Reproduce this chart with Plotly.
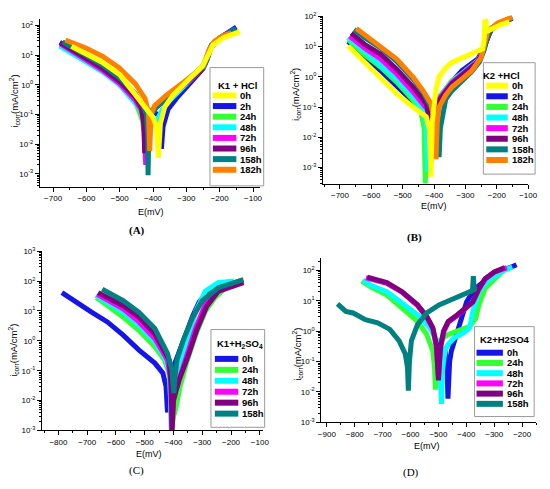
import plotly.graph_objects as go

# ---- panel A : K1 + HCl ----
a_e_0h = [-645, -600, -550, -500, -453, -420, -400, -390, -384, -378, -365, -340, -310, -280, -250, -235, -220, -190, -160, -140]
a_i_0h = [20, 11, 5.5, 2.2, 0.45, 0.16, 0.08, 0.04, 0.0035, 0.05, 0.18, 0.45, 1.0, 2.3, 4.5, 10, 22, 38, 52, 62]
a_e_2h = [-680, -640, -600, -550, -500, -450, -420, -400, -385, -378, -375, -370, -355, -330, -300, -270, -250, -238, -225, -200, -175, -150]
a_i_2h = [27, 16, 8.5, 3.8, 1.4, 0.35, 0.15, 0.12, 0.1, 0.03, 0.007, 0.04, 0.15, 0.35, 0.8, 1.8, 3.5, 7, 20, 38, 58, 88]
a_e_24h = [-680, -600, -550, -500, -453, -438, -432, -428, -424, -410, -390, -360, -330, -300, -270, -250, -238, -225, -200, -175, -155]
a_i_24h = [22, 6.5, 2.9, 1.05, 0.26, 0.1, 0.06, 0.03, 0.07, 0.12, 0.2, 0.35, 0.7, 1.3, 2.4, 4, 8, 20, 36, 55, 72]
a_e_48h = [-680, -600, -550, -500, -453, -430, -410, -398, -390, -384, -372, -350, -320, -290, -260, -242, -228, -205, -180, -155]
a_i_48h = [20, 6, 2.7, 0.98, 0.25, 0.12, 0.1, 0.07, 0.035, 0.08, 0.15, 0.3, 0.65, 1.4, 3, 6, 18, 34, 52, 72]
a_e_72h = [-678, -600, -550, -500, -453, -435, -428, -422, -418, -405, -385, -355, -320, -290, -260, -242, -228, -205, -180, -158]
a_i_72h = [24, 7, 3, 1.1, 0.3, 0.14, 0.06, 0.002, 0.05, 0.12, 0.2, 0.35, 0.7, 1.4, 3, 6, 18, 34, 52, 70]
a_e_96h = [-678, -600, -550, -500, -453, -435, -428, -425, -420, -405, -385, -355, -320, -290, -260, -244, -230, -205, -180, -158]
a_i_96h = [26, 8, 3.5, 1.3, 0.38, 0.17, 0.05, 0.005, 0.06, 0.13, 0.2, 0.36, 0.72, 1.4, 2.9, 5.5, 16, 33, 50, 68]
a_e_158h = [-672, -600, -550, -500, -453, -430, -420, -416, -415, -413, -405, -390, -360, -330, -300, -270, -248, -236, -225, -200, -175, -150]
a_i_158h = [28, 10, 4.5, 1.7, 0.5, 0.2, 0.1, 0.02, 0.0009, 0.02, 0.1, 0.18, 0.35, 0.7, 1.3, 2.5, 4.5, 9, 22, 38, 55, 78]
a_e_182h = [-663, -600, -551, -502, -453, -424, -414, -410, -406, -395, -360, -330, -300, -270, -250, -240, -232, -215, -190, -165]
a_i_182h = [32, 17, 9, 3.8, 1.07, 0.34, 0.12, 0.006, 0.1, 0.2, 0.45, 0.8, 1.4, 2.6, 4.3, 8, 15, 30, 45, 56]

# ---- panel B : K2 + HCl ----
b_e_0h = [-674, -622, -570, -519, -467, -425, -415, -410, -406, -400, -394, -384, -363, -343, -311, -280, -255, -245, -240, -238, -235, -232, -215, -185, -160]
b_i_0h = [10.5, 3, 0.85, 0.28, 0.1, 0.048, 0.018, 0.0005, 0.03, 0.15, 0.4, 1.0, 2.0, 3.0, 4.3, 5.5, 7.5, 8.5, 20, 78, 70, 32, 40, 55, 66]
b_e_2h = [-674, -622, -570, -519, -467, -440, -425, -418, -415, -410, -400, -385, -363, -343, -311, -280, -260, -244, -234, -218, -198, -175, -150]
b_i_2h = [15, 4.5, 1.6, 0.52, 0.15, 0.08, 0.05, 0.02, 0.004, 0.03, 0.08, 0.2, 0.4, 0.7, 1.6, 2.8, 4, 8, 16, 38, 55, 72, 88]
b_e_24h = [-674, -622, -570, -519, -467, -441, -432, -428, -424, -415, -400, -385, -363, -343, -311, -280, -260, -244, -234, -218, -198, -175, -155]
b_i_24h = [17, 5.5, 2.1, 0.67, 0.17, 0.062, 0.02, 0.0003, 0.02, 0.06, 0.1, 0.2, 0.4, 0.75, 1.3, 2.5, 3.5, 7, 15, 37, 53, 70, 85]
b_e_48h = [-674, -622, -570, -519, -467, -436, -425, -420, -416, -408, -395, -380, -363, -343, -311, -280, -260, -244, -234, -218, -198, -175, -155]
b_i_48h = [20, 7, 2.6, 0.86, 0.22, 0.08, 0.03, 0.0007, 0.03, 0.07, 0.12, 0.2, 0.38, 0.7, 1.25, 2.4, 3.4, 7, 15, 37, 53, 70, 85]
b_e_72h = [-669, -622, -570, -519, -467, -420, -414, -410, -406, -398, -385, -363, -343, -311, -280, -260, -244, -234, -218, -198, -175, -155]
b_i_72h = [22, 9, 3.9, 1.25, 0.32, 0.08, 0.03, 0.0014, 0.03, 0.08, 0.18, 0.35, 0.65, 1.2, 2.3, 3.3, 7, 15, 37, 53, 70, 85]
b_e_96h = [-664, -622, -570, -519, -467, -425, -416, -412, -408, -400, -385, -363, -343, -311, -280, -260, -244, -234, -218, -198, -175, -155]
b_i_96h = [28, 12, 5.6, 1.8, 0.46, 0.13, 0.05, 0.02, 0.04, 0.08, 0.16, 0.33, 0.6, 1.15, 2.2, 3.2, 7, 15, 37, 53, 70, 85]
b_e_158h = [-655, -622, -570, -519, -467, -436, -410, -395, -388, -384, -380, -370, -363, -343, -311, -280, -255, -240, -230, -218, -198, -175, -150]
b_i_158h = [37, 20, 9, 3.3, 0.85, 0.32, 0.1, 0.04, 0.01, 0.0022, 0.02, 0.1, 0.18, 0.35, 0.75, 1.5, 3.2, 8, 20, 40, 58, 75, 92]
b_e_182h = [-648, -610, -570, -519, -467, -436, -410, -400, -396, -394, -390, -384, -363, -343, -311, -280, -250, -239, -229, -198, -170, -151]
b_i_182h = [40, 20, 10.5, 3.9, 0.98, 0.36, 0.13, 0.037, 0.008, 0.0019, 0.03, 0.1, 0.25, 0.46, 0.86, 1.6, 4.4, 15, 32, 60, 80, 95]

# ---- panel C : K1 + H2SO4 ----
c_e_0h = [-788, -740, -685, -630, -575, -520, -465, -437, -426, -421, -416, -405, -390, -370, -350, -333, -311, -290, -250, -200, -160]
c_i_0h = [41, 19.5, 9.1, 4.3, 1.55, 0.49, 0.18, 0.083, 0.03, 0.004, 0.02, 0.1, 0.25, 0.8, 2.2, 7, 20, 35, 60, 85, 105]
c_e_24h = [-668, -630, -575, -520, -465, -432, -415, -410, -407, -400, -393, -377, -355, -322, -289, -256, -212, -157]
c_i_24h = [28, 15, 6.2, 2.2, 0.63, 0.23, 0.083, 0.01, 0.001, 0.003, 0.005, 0.03, 0.18, 1.7, 10, 28, 69, 100]
c_e_48h = [-670, -630, -575, -520, -465, -426, -412, -408, -404, -398, -388, -366, -344, -322, -289, -245, -190]
c_i_48h = [33, 19.5, 9, 3.3, 0.93, 0.23, 0.06, 0.001, 0.01, 0.04, 0.08, 0.38, 1.7, 10, 47, 89, 100]
c_e_72h = [-665, -575, -520, -465, -421, -410, -406, -402, -396, -388, -355, -322, -289, -245, -157]
c_i_72h = [36, 11.7, 4.3, 1.2, 0.23, 0.05, 0.001, 0.01, 0.02, 0.03, 0.3, 2.9, 17, 53, 100]
c_e_96h = [-662, -575, -520, -465, -415, -408, -405, -400, -392, -380, -350, -318, -285, -245, -157]
c_i_96h = [41, 15, 6.2, 1.7, 0.23, 0.03, 0.001, 0.01, 0.02, 0.05, 0.3, 2.5, 14, 45, 89]
c_e_158h = [-648, -575, -520, -465, -421, -405, -401, -399, -395, -388, -366, -333, -300, -245, -157]
c_i_158h = [54, 22, 9, 2.6, 0.38, 0.1, 0.03, 0.018, 0.06, 0.23, 1.04, 6.2, 22, 60, 112]

# ---- panel D : K2 + H2SO4 ----
d_e_0h = [-478, -473, -469, -466, -464, -460, -454, -443, -421, -410, -399, -377, -355, -311, -267, -220]
d_i_0h = [0.3, 0.12, 0.05, 0.006, 0.03, 0.1, 0.22, 0.48, 1.66, 4.5, 9.3, 20, 32, 69, 107, 155]
d_e_24h = [-775, -740, -685, -630, -575, -542, -520, -514, -511, -507, -498, -465, -421, -388, -366, -355, -333, -300, -267]
d_i_24h = [45, 28, 15.5, 5.7, 2.1, 0.78, 0.22, 0.06, 0.012, 0.15, 0.48, 0.78, 1.14, 1.46, 2.7, 7.4, 25.5, 54, 100]
d_e_48h = [-770, -740, -685, -630, -575, -531, -509, -497, -491, -489, -486, -476, -465, -443, -410, -388, -377, -355, -322, -267, -235]
d_i_48h = [48, 32, 20, 8.3, 3.5, 1.3, 0.54, 0.15, 0.02, 0.004, 0.05, 0.25, 0.37, 0.61, 0.89, 1.29, 4.5, 20, 47, 100, 130]
d_e_72h = [-760, -720, -685, -630, -575, -542, -520, -508, -503, -500, -497, -492, -480, -465, -432, -399, -377, -355, -333, -300, -255]
d_i_72h = [58, 48, 38, 19, 7, 2.9, 1.2, 0.3, 0.07, 0.03, 0.07, 0.3, 1.0, 2.0, 3.3, 6.2, 9, 24, 52, 88, 125]
d_e_96h = [-755, -720, -685, -630, -575, -542, -520, -507, -502, -500, -497, -493, -482, -465, -432, -399, -377, -355, -333, -300, -262]
d_i_96h = [60, 50, 40, 20, 7.4, 3.1, 1.3, 0.35, 0.08, 0.024, 0.08, 0.29, 1.0, 2.1, 3.5, 6.5, 9.3, 25.5, 54, 89, 125]
d_e_158h = [-862, -850, -832, -806, -762, -718, -674, -641, -619, -611, -608, -604, -597, -575, -542, -498, -443, -399, -378, -375, -372, -362]
d_i_158h = [8, 6.5, 4.5, 4, 2.4, 1.9, 1.15, 0.48, 0.18, 0.065, 0.011, 0.1, 0.48, 1.66, 4, 7.4, 12, 17.5, 22, 65, 25, 24]

YELLOW = "#FFFF00"
BLUE = "#1515E8"
GREEN = "#33FF33"
CYAN = "#00FFFF"
MAGENTA = "#FF00FF"
PURPLE = "#800080"
TEAL = "#008080"
ORANGE = "#FF8000"

panel_a = [("0h", a_e_0h, a_i_0h, YELLOW), ("2h", a_e_2h, a_i_2h, BLUE),
           ("24h", a_e_24h, a_i_24h, GREEN), ("48h", a_e_48h, a_i_48h, CYAN),
           ("72h", a_e_72h, a_i_72h, MAGENTA), ("96h", a_e_96h, a_i_96h, PURPLE),
           ("158h", a_e_158h, a_i_158h, TEAL), ("182h", a_e_182h, a_i_182h, ORANGE)]
panel_b = [("0h", b_e_0h, b_i_0h, YELLOW), ("2h", b_e_2h, b_i_2h, BLUE),
           ("24h", b_e_24h, b_i_24h, GREEN), ("48h", b_e_48h, b_i_48h, CYAN),
           ("72h", b_e_72h, b_i_72h, MAGENTA), ("96h", b_e_96h, b_i_96h, PURPLE),
           ("158h", b_e_158h, b_i_158h, TEAL), ("182h", b_e_182h, b_i_182h, ORANGE)]
panel_c = [("0h", c_e_0h, c_i_0h, BLUE), ("24h", c_e_24h, c_i_24h, GREEN),
           ("48h", c_e_48h, c_i_48h, CYAN), ("72h", c_e_72h, c_i_72h, MAGENTA),
           ("96h", c_e_96h, c_i_96h, PURPLE), ("158h", c_e_158h, c_i_158h, TEAL)]
panel_d = [("0h", d_e_0h, d_i_0h, BLUE), ("24h", d_e_24h, d_i_24h, GREEN),
           ("48h", d_e_48h, d_i_48h, CYAN), ("72h", d_e_72h, d_i_72h, MAGENTA),
           ("96h", d_e_96h, d_i_96h, PURPLE), ("158h", d_e_158h, d_i_158h, TEAL)]

W, H = 550, 489
fig = go.Figure()


def add_panel(series, order, xa, ya):
    # order = drawing order (last one ends on top)
    for k in order:
        name, e, i, col = series[k]
        fig.add_trace(go.Scatter(x=e, y=i, mode="lines", name=name,
                                 line=dict(color=col, width=5),
                                 xaxis=xa, yaxis=ya, showlegend=False))


add_panel(panel_a, [1, 2, 3, 4, 5, 6, 7, 0], "x", "y")
add_panel(panel_b, [1, 2, 3, 4, 5, 6, 7, 0], "x2", "y2")
add_panel(panel_c, [0, 1, 2, 3, 4, 5], "x3", "y3")
add_panel(panel_d, [0, 1, 2, 3, 4, 5], "x4", "y4")

tickfont = dict(family="Liberation Sans", size=8, color="black")
pw = [-3, -2, -1, 0, 1, 2, 3]
ylabels = ["10<sup>%d</sup>" % p for p in pw]
yvals = [10.0 ** p for p in pw]


def xax(dom, rng, anchor):
    return dict(domain=dom, range=rng, anchor=anchor, dtick=100, tick0=0, ticks="outside",
                ticklen=4, tickcolor="black", showline=True, linecolor="black",
                showgrid=False, zeroline=False, tickfont=tickfont,
                minor=dict(dtick=50, tick0=0, ticks="outside", ticklen=2, tickcolor="black"))


def yax(dom, rng, anchor):
    return dict(domain=dom, range=rng, anchor=anchor, type="log", tickmode="array",
                tickvals=yvals, ticktext=ylabels, ticks="outside", ticklen=4,
                tickcolor="black", showline=True, linecolor="black", showgrid=False,
                zeroline=False, tickfont=tickfont,
                minor=dict(dtick="D1", ticks="outside", ticklen=2, tickcolor="black"))


fig.update_layout(
    width=W, height=H, margin=dict(l=0, r=0, t=0, b=0),
    paper_bgcolor="white", plot_bgcolor="white", showlegend=False,
    xaxis=xax([0.0685, 0.478], [-740, -80], "y"),
    yaxis=yax([0.622, 0.973], [-3.43, 2.22], "x"),
    xaxis2=xax([0.596, 0.978], [-754, -100], "y2"),
    yaxis2=yax([0.628, 0.980], [-3.54, 2.03], "x2"),
    xaxis3=xax([40 / W, 266 / W], [-857, -90], "y3"),
    yaxis3=yax([0.112, 0.487], [-3, 3], "x3"),
    xaxis4=xax([326 / W, 546 / W], [-920, -150], "y4"),
    yaxis4=yax([0.129, 0.472], [-3, 2.4], "x4"),
)


def px(x, y):
    return x / W, 1 - y / H


def text(x, y, t, size=9, anchor="center", angle=0, family="Liberation Sans"):
    xx, yy = px(x, y)
    fig.add_annotation(x=xx, y=yy, xref="paper", yref="paper", text=t, textangle=angle,
                       showarrow=False, xanchor=anchor, yanchor="middle",
                       font=dict(family=family, size=size, color="black"))


# hand-made legend boxes (Origin style: short thick swatches, tight rows)
def legend(series, box, title, title_x, title_y, row0, step, sw0, sw1, tx):
    x0, y0 = px(box[0], box[1])
    x1, y1 = px(box[2], box[3])
    fig.add_shape(type="rect", xref="paper", yref="paper", x0=x0, y0=y0, x1=x1, y1=y1,
                  line=dict(color="#9a9a9a", width=1), fillcolor="white", layer="above")
    text(title_x, title_y, "<b>%s</b>" % title, size=9.5)
    for k, (name, e, i, col) in enumerate(series):
        yk = row0 + k * step
        a0, b0 = px(sw0, yk)
        a1, _ = px(sw1, yk)
        fig.add_shape(type="line", xref="paper", yref="paper", x0=a0, y0=b0, x1=a1, y1=b0,
                      line=dict(color=col, width=6), layer="above")
        text(tx, yk, "<b>%s</b>" % name, size=9.5, anchor="left")


legend(panel_a, (212, 63, 267, 184), "K1 + HCl", 240, 81, 91.5, 10.86, 215, 239, 241)
legend(panel_b, (492, 58, 545, 172), "K2 +HCl", 511, 71.5, 81.5, 10.86, 495, 517, 519)
legend(panel_c, (213, 331, 268, 431), "K1+H<sub>2</sub>SO<sub>4</sub>", 243, 346, 361, 11.2, 217, 241, 243)
legend(panel_d, (483, 328, 544, 420), "K2+H2SO4", 514, 341.5, 354.7, 10.46, 485, 512, 514)

ytitle = "i<sub>corr</sub>(mA/cm<sup>2</sup>)"
text(12, 97, ytitle, size=9.5, angle=-90)
text(300, 90, ytitle, size=9.5, angle=-90)
text(10, 352, ytitle, size=9.5, angle=-90)
text(302, 356, ytitle, size=9.5, angle=-90)
text(152, 211, "E(mV)", size=9)
text(441, 205, "E(mV)", size=9)
text(150, 458, "E(mV)", size=9)
text(434, 450, "E(mV)", size=9)
text(137, 230, "<b>(A)</b>", size=11, family="Liberation Serif")
text(421, 237, "<b>(B)</b>", size=11, family="Liberation Serif")
text(137, 475, "(C)", size=11, family="Liberation Serif")
text(418, 477, "(D)", size=11, family="Liberation Serif")

fig.write_html("out.html", config={"displayModeBar": False},
               post_script="document.body.style.margin='0px';")
